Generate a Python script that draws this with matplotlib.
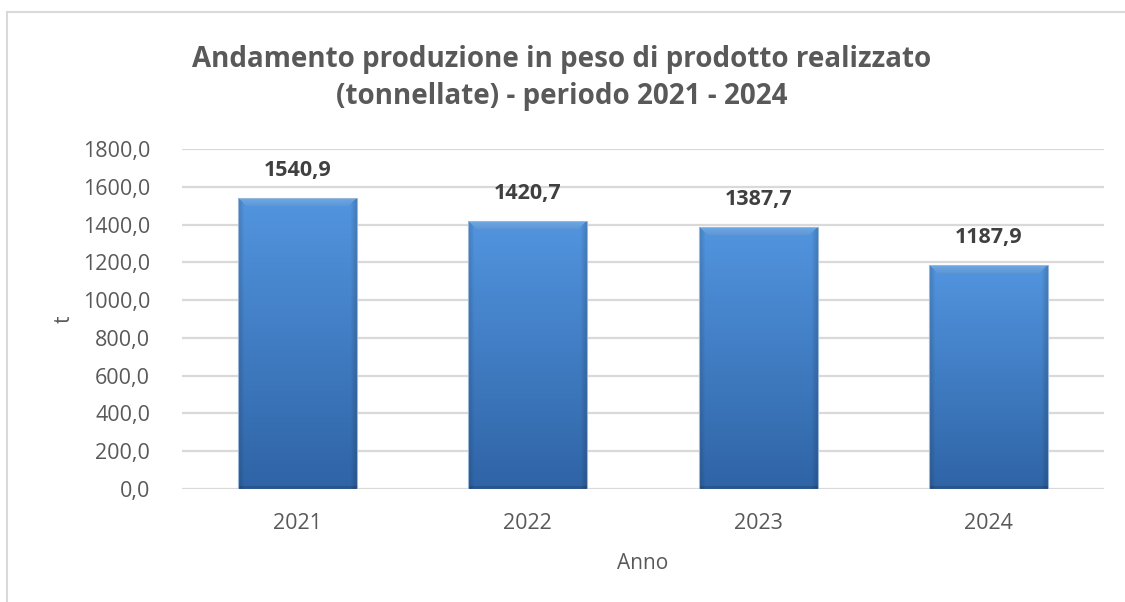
import numpy as np
import matplotlib
matplotlib.use("Agg")
import matplotlib.pyplot as plt
from matplotlib.colors import to_rgb
from matplotlib.lines import Line2D

categories = ["2021", "2022", "2023", "2024"]
values = [1540.9, 1420.7, 1387.7, 1187.9]
value_labels = ["1540,9", "1420,7", "1387,7", "1187,9"]
yticks = [0, 200, 400, 600, 800, 1000, 1200, 1400, 1600, 1800]
ytick_labels = ["0,0", "200,0", "400,0", "600,0", "800,0", "1000,0", "1200,0", "1400,0", "1600,0", "1800,0"]
title = "Andamento produzione in peso di prodotto realizzato\n(tonnellate) - periodo 2021 - 2024"
xlabel = "Anno"
ylabel = "t"

plt.rcParams['font.family'] = ['Open Sans', 'DejaVu Sans']
TXT = "#595959"
GRID = "#d9d9d9"

W, H = 1125, 602
fig = plt.figure(figsize=(W / 100, H / 100), dpi=100)
ax = fig.add_axes([182 / W, 1 - 489 / H, 922 / W, 340 / H])

x = np.arange(len(categories))
bw = 0.516
bars = ax.bar(x, values, width=bw, color="#3f7ccb", zorder=2, linewidth=0)
ax.set_xlim(-0.5, len(categories) - 0.5)
ax.set_ylim(0, 1800)
ax.set_yticks(yticks)
ax.set_yticklabels(ytick_labels)
ax.set_xticks(x)
ax.set_xticklabels(categories)
ax.tick_params(axis="both", length=0, labelsize=15.5, labelcolor=TXT)
ax.tick_params(axis="y", pad=23)
ax.tick_params(axis="x", pad=17)
ax.grid(axis="y", color=GRID, linewidth=1.6, zorder=0)
ax.set_axisbelow(True)
for s in ax.spines.values():
    s.set_visible(False)

ax.set_xlabel(xlabel, fontsize=15, color=TXT, labelpad=14)
ax.set_ylabel(ylabel, fontsize=15, color=TXT, labelpad=6)

# gradient bevel fill for bars
top_c = np.array(to_rgb("#5295df"))
bot_c = np.array(to_rgb("#2f64a6"))
bevel_c = np.array(to_rgb("#6caaec"))
fig.canvas.draw()
for b in bars:
    x0, y0 = b.get_x(), b.get_y()
    w, h = b.get_width(), b.get_height()
    p0 = ax.transData.transform((x0, y0))
    p1 = ax.transData.transform((x0 + w, y0 + h))
    pw = max(int(round(p1[0] - p0[0])), 2)
    ph = max(int(round(p1[1] - p0[1])), 2)
    rows = np.linspace(0, 1, ph)[:, None, None]
    img = top_c * (1 - rows) + bot_c * rows
    img = np.repeat(img, pw, axis=1)
    cols = np.arange(pw)
    rr = np.arange(ph)[:, None]
    cc = cols[None, :]
    edge = np.minimum(cc, pw - 1 - cc)
    side = np.clip(edge / 6.0, 0, 1)
    shade = 0.84 + 0.16 * side
    img = img * shade[..., None]
    bev = 9
    topmask = (rr < bev) & (rr <= edge)
    frac = np.broadcast_to(rr / bev, (ph, pw))[topmask]
    img[topmask] = bevel_c * (1 - 0.12 * frac)[:, None]
    botmask = np.broadcast_to(rr >= ph - 3, (ph, pw))
    img[botmask] *= 0.85
    im = ax.imshow(np.clip(img, 0, 1), extent=(x0, x0 + w, y0, y0 + h),
                   aspect="auto", origin="upper", zorder=3, interpolation="bilinear")
    im.set_clip_path(b)
    b.set_facecolor("none")
    b.set_edgecolor("#9ab7d8")
    b.set_linewidth(0.8)
    b.set_zorder(4)

ax.set_xlim(-0.5, len(categories) - 0.5)
ax.set_ylim(0, 1800)

for xi, v, lab in zip(x, values, value_labels):
    ax.annotate(lab, (xi, v), xytext=(0, 12), textcoords="offset points",
                ha="center", va="bottom", fontsize=15.5, fontweight="bold",
                color="#404040", zorder=5)

fig.text(562 / W, 1 - 78 / H, title, ha="center", va="center", fontsize=20,
         fontweight="bold", color=TXT, linespacing=1.4)

# chart border (top and left)
fig.add_artist(Line2D([7 / W, 1], [1 - 12 / H, 1 - 12 / H], color=GRID, lw=1.5, transform=fig.transFigure))
fig.add_artist(Line2D([7 / W, 7 / W], [0, 1 - 12 / H], color=GRID, lw=1.5, transform=fig.transFigure))

fig.savefig("out.png", dpi=100, facecolor="white")
